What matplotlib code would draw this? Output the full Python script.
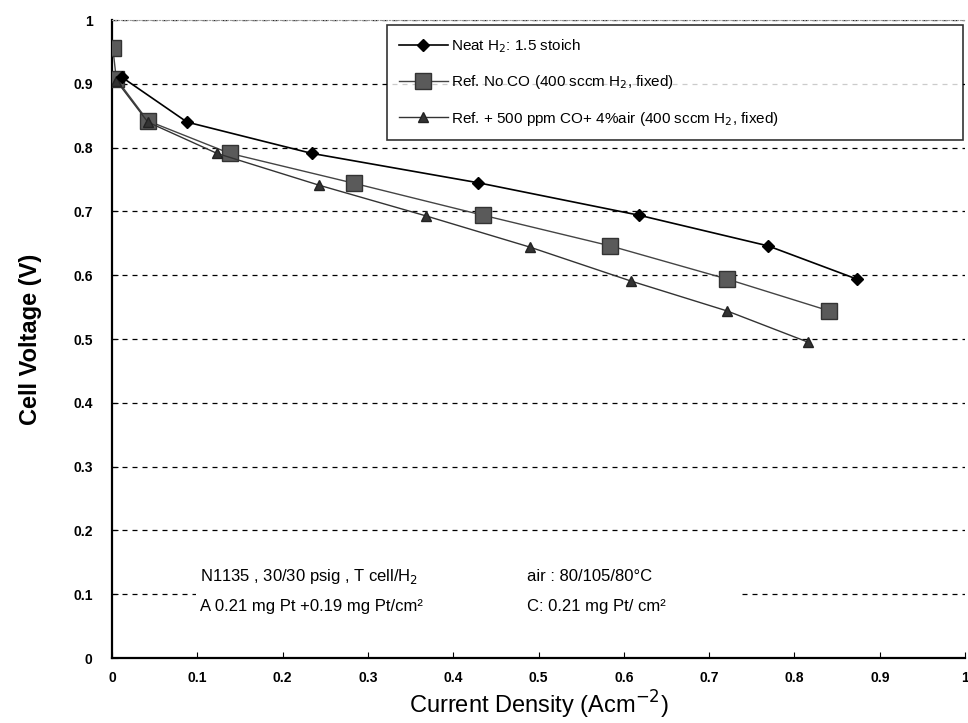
import matplotlib.pyplot as plt
from matplotlib.patches import Rectangle
from matplotlib.ticker import FuncFormatter

plt.rcParams['font.family'] = ['Liberation Sans', 'DejaVu Sans']

# Data
neat_x = [0.012, 0.088, 0.234, 0.429, 0.618, 0.769, 0.873]
neat_y = [0.910, 0.840, 0.791, 0.745, 0.694, 0.646, 0.594]

noco_x = [0.001, 0.005, 0.042, 0.138, 0.284, 0.435, 0.584, 0.721, 0.841]
noco_y = [0.956, 0.908, 0.842, 0.791, 0.744, 0.694, 0.646, 0.594, 0.544]

co_x = [0.005, 0.042, 0.123, 0.243, 0.368, 0.490, 0.608, 0.721, 0.816]
co_y = [0.905, 0.840, 0.791, 0.741, 0.693, 0.644, 0.591, 0.544, 0.495]

labels = ['Neat H$_2$: 1.5 stoich',
          'Ref. No CO (400 sccm H$_2$, fixed)',
          'Ref. + 500 ppm CO+ 4%air (400 sccm H$_2$, fixed)']

fig = plt.figure(figsize=(9.68, 7.23), dpi=100)
ax = fig.add_axes([0.1157, 0.0899, 0.8813, 0.8824])

# Plot the three polarisation curves
ax.plot(neat_x, neat_y, '-', color='black', lw=1.2, marker='D', ms=6,
        mfc='black', mec='black', label=labels[0], zorder=4)
ax.plot(noco_x, noco_y, '-', color='#444444', lw=1.0, marker='s', ms=12,
        mfc='#5a5a5a', mec='#333333', label=labels[1], zorder=3)
ax.plot(co_x, co_y, '-', color='#333333', lw=1.0, marker='^', ms=7,
        mfc='#333333', mec='#222222', label=labels[2], zorder=3)

ax.set_xlim(0, 1.0)
ax.set_ylim(0, 1.0)
ax.set_xticks([i / 10 for i in range(11)])
ax.set_yticks([i / 10 for i in range(11)])
fmt = FuncFormatter(lambda v, p: '%g' % round(v, 1))
ax.xaxis.set_major_formatter(fmt)
ax.yaxis.set_major_formatter(fmt)
ax.tick_params(direction='in', length=4, width=0.8, labelsize=10)
ax.tick_params(axis='x', pad=9)
ax.tick_params(axis='y', pad=14)
for lab in ax.get_xticklabels() + ax.get_yticklabels():
    lab.set_fontweight('bold')

# Dashed horizontal grid
ax.yaxis.grid(True, color='black', lw=0.9, linestyle=(0, (4, 4)))
ax.set_axisbelow(True)

ax.spines['right'].set_visible(False)
ax.spines['top'].set_color('#999999')
ax.spines['top'].set_linestyle(':')
ax.spines['left'].set_linewidth(1.6)
ax.spines['bottom'].set_linewidth(1.6)

ax.set_ylabel('Cell Voltage (V)', fontsize=17, fontweight='bold', labelpad=22)
ax.set_xlabel('Current Density (Acm$^{-2}$)', fontsize=17, labelpad=3)

leg = ax.legend(loc='upper left', bbox_to_anchor=(0.322, 0.992, 0.675, 0.0),
                mode='expand', frameon=True, fancybox=False, fontsize=11,
                handlelength=3.2, borderpad=0.8, labelspacing=1.2,
                handletextpad=0.2, borderaxespad=0)
leg.get_frame().set_edgecolor('black')
leg.get_frame().set_linewidth(1.2)

# Conditions note on a white patch over the grid
ax.add_patch(Rectangle((0.098, 0.06), 0.64, 0.09, transform=ax.transAxes,
                       facecolor='white', edgecolor='none', zorder=1.5))
note = dict(fontsize=12, va='center', zorder=5)
ax.text(0.103, 0.127, 'N1135 , 30/30 psig , T cell/H$_2$', **note)
ax.text(0.103, 0.080, 'A 0.21 mg Pt +0.19 mg Pt/cm\u00b2', **note)
ax.text(0.487, 0.127, 'air : 80/105/80\u00b0C', **note)
ax.text(0.487, 0.080, 'C: 0.21 mg Pt/ cm\u00b2', **note)

plt.savefig('out.png', dpi=100)
